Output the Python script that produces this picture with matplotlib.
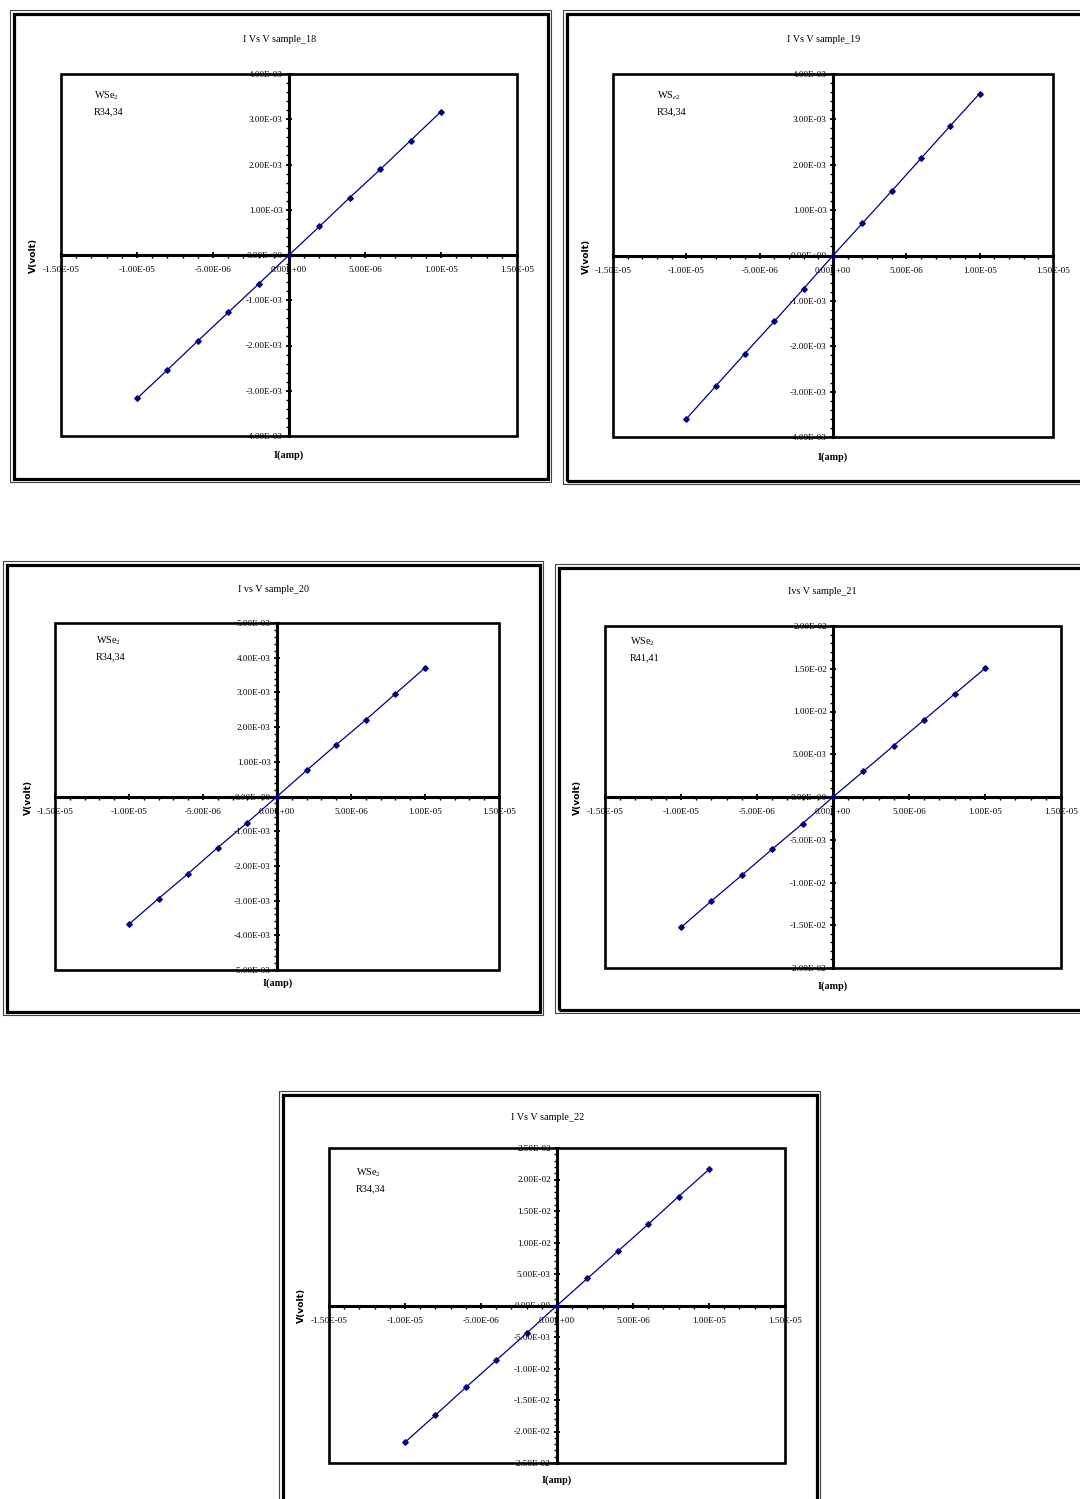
import matplotlib
matplotlib.use("Agg")
import matplotlib.pyplot as plt
from matplotlib.patches import Rectangle
from matplotlib.ticker import MultipleLocator, FuncFormatter

plt.rcParams['font.family'] = ['Liberation Serif', 'DejaVu Serif']
plt.rcParams['mathtext.fontset'] = 'custom'
plt.rcParams['mathtext.rm'] = 'Liberation Serif'
plt.rcParams['mathtext.it'] = 'Liberation Serif:italic'

W, H = 1080, 1499

# current sweep (A) shared by all samples
current = [-1e-5, -8e-6, -6e-6, -4e-6, -2e-6, 0, 2e-6, 4e-6, 6e-6, 8e-6, 1e-5]

v_18 = [-3.17e-3, -2.54e-3, -1.90e-3, -1.27e-3, -0.64e-3, 0, 0.63e-3, 1.27e-3, 1.89e-3, 2.53e-3, 3.17e-3]
v_19 = [-3.60e-3, -2.88e-3, -2.16e-3, -1.45e-3, -0.73e-3, 0, 0.71e-3, 1.42e-3, 2.14e-3, 2.86e-3, 3.57e-3]
v_20 = [-3.68e-3, -2.94e-3, -2.22e-3, -1.47e-3, -0.75e-3, 0, 0.75e-3, 1.49e-3, 2.21e-3, 2.96e-3, 3.71e-3]
v_21 = [-1.525e-2, -1.216e-2, -0.915e-2, -0.61e-2, -0.31e-2, 0, 0.30e-2, 0.602e-2, 0.903e-2, 1.205e-2, 1.505e-2]
v_22 = [-2.17e-2, -1.74e-2, -1.30e-2, -0.87e-2, -0.44e-2, 0, 0.43e-2, 0.86e-2, 1.29e-2, 1.73e-2, 2.16e-2]

titles = ["I Vs V sample_18", "I Vs V sample_19", "I vs V sample_20", "Ivs V sample_21", "I Vs V sample_22"]
materials = [r"WSe$_2$", r"WS$_{e2}$", r"WSe$_2$", r"WSe$_2$", r"WSe$_2$"]
contacts = ["R34,34", "R34,34", "R34,34", "R41,41", "R34,34"]
y_limits = [4e-3, 4e-3, 5e-3, 2e-2, 2.5e-2]
y_steps = [1e-3, 1e-3, 1e-3, 5e-3, 5e-3]
volts = [v_18, v_19, v_20, v_21, v_22]

# layout in pixels: outer frame, plot area, title, xlabel, ylabel, note
frames = [(10, 10, 551, 482), (563, 10, 1088, 484), (3, 561, 543, 1015),
          (555, 564, 1088, 1013), (279, 1091, 820, 1510)]
plots = [(61, 74, 517, 436), (613, 74, 1053, 437), (55, 623, 499, 970),
         (605, 626, 1061, 968), (329, 1148, 785, 1463)]
title_pos = [(280, 39), (824, 39), (273, 589), (822, 592), (548, 1117)]
xlab_pos = [(289, 455), (833, 457), (278, 983), (833, 986), (557, 1480)]
ylab_pos = [(33, 255), (586, 256), (28, 797), (577, 797), (301, 1305)]
note_pos = [(94, 96), (657, 96), (96, 641), (630, 642), (356, 1173)]


def fx(x):
    return x / W


def fy(y):
    return 1 - y / H


def sci(v, pos):
    if abs(v) < 1e-12:
        v = 0.0
    return '%.2E' % v


fig = plt.figure(figsize=(W / 100, H / 100), dpi=100)

for i in range(5):
    x0, y0, x1, y1 = frames[i]
    fig.add_artist(Rectangle((fx(x0), fy(y1)), (x1 - x0) / W, (y1 - y0) / H,
                             fill=False, lw=0.8, ec='#444444', transform=fig.transFigure))
    d = 3.5
    fig.add_artist(Rectangle((fx(x0 + d), fy(y1 - d)), (x1 - x0 - 2 * d) / W, (y1 - y0 - 2 * d) / H,
                             fill=False, lw=2.3, ec='black', transform=fig.transFigure))

    px0, py0, px1, py1 = plots[i]
    ax = fig.add_axes([fx(px0), fy(py1), (px1 - px0) / W, (py1 - py0) / H])
    ax.plot(current, volts[i], color='#000080', lw=0.9, marker='D', ms=2.8,
            mec='#000080', mfc='#000080', zorder=4, clip_on=False)
    ax.set_xlim(-1.5e-5, 1.5e-5)
    ax.set_ylim(-y_limits[i], y_limits[i])

    ax.spines['left'].set_position('zero')
    ax.spines['bottom'].set_position('zero')
    ax.spines['top'].set_visible(False)
    ax.spines['right'].set_visible(False)
    ax.spines['left'].set_linewidth(2.2)
    ax.spines['bottom'].set_linewidth(2.2)
    ax.add_patch(Rectangle((0, 0), 1, 1, transform=ax.transAxes, fill=False,
                           lw=1.9, ec='black', zorder=5, clip_on=False))

    ax.xaxis.set_major_locator(MultipleLocator(5e-6))
    ax.xaxis.set_minor_locator(MultipleLocator(1e-6))
    ax.yaxis.set_major_locator(MultipleLocator(y_steps[i]))
    ax.yaxis.set_minor_locator(MultipleLocator(y_steps[i] / 5))
    ax.xaxis.set_major_formatter(FuncFormatter(sci))
    ax.yaxis.set_major_formatter(FuncFormatter(sci))
    ax.tick_params(which='major', direction='inout', length=5, width=1.3, labelsize=6.6)
    ax.tick_params(which='minor', direction='out', length=2.5, width=1)
    ax.tick_params(axis='x', which='major', pad=5.5)
    ax.tick_params(axis='y', which='major', pad=2)

    fig.text(fx(title_pos[i][0]), fy(title_pos[i][1]), titles[i], ha='center', va='center', fontsize=7.3)
    fig.text(fx(xlab_pos[i][0]), fy(xlab_pos[i][1]), "I(amp)", ha='center', va='center',
             fontsize=7.3, fontweight='bold')
    fig.text(fx(ylab_pos[i][0]), fy(ylab_pos[i][1]), "V(volt)", ha='center', va='center',
             rotation=90, fontsize=6.6, fontweight='bold', family='DejaVu Sans')
    nx, ny = note_pos[i]
    fig.text(fx(nx), fy(ny), materials[i], ha='left', va='center', fontsize=7.3)
    fig.text(fx(nx), fy(ny + 16), contacts[i], ha='left', va='center', fontsize=7.3)

fig.savefig('out.png', dpi=100)
